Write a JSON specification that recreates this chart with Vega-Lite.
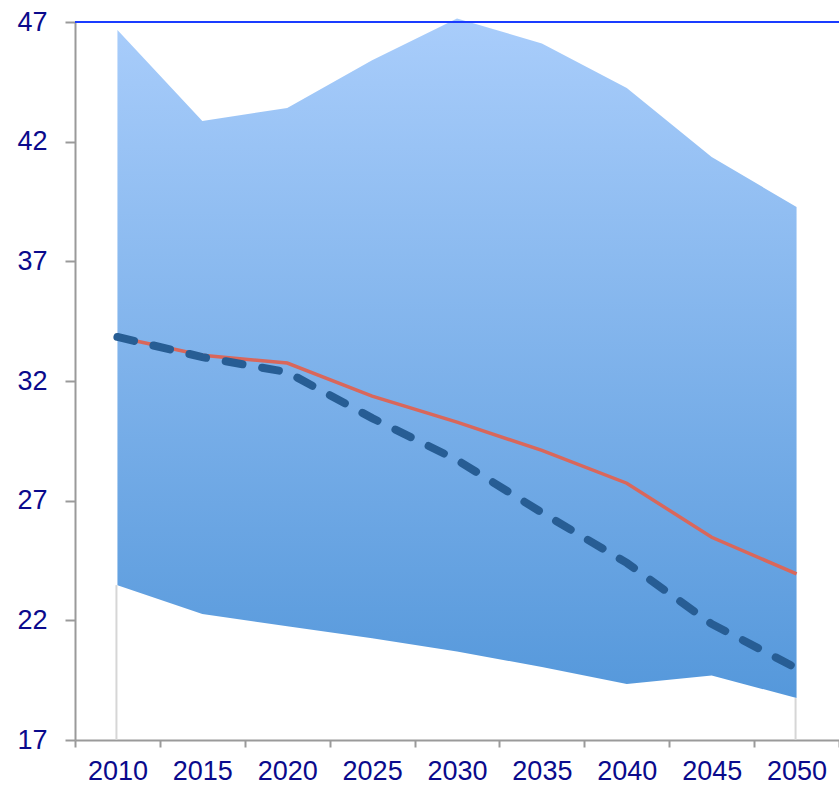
{
  "$schema": "https://vega.github.io/schema/vega-lite/v6.json",
  "width": 764,
  "height": 718,
  "autosize": {"type": "none"},
  "padding": {"left": 75, "top": 22, "right": 0, "bottom": 49},
  "background": "white",
  "config": {
    "view": {"stroke": null},
    "axis": {"labelFont": "Liberation Sans", "labelFontSize": 27, "labelColor": "#0a0a8c", "domainColor": "#9a9a9a", "domainWidth": 2, "tickColor": "#9a9a9a", "tickWidth": 2, "grid": false, "title": null}
  },
  "data": {"values": [
    {"year": "2010", "upper": 46.67, "lower": 23.47, "red": 33.84, "dashed": 33.84},
    {"year": "2015", "upper": 42.86, "lower": 22.26, "red": 33.08, "dashed": 33.0},
    {"year": "2020", "upper": 43.41, "lower": 21.75, "red": 32.75, "dashed": 32.37},
    {"year": "2025", "upper": 45.4, "lower": 21.25, "red": 31.37, "dashed": 30.45},
    {"year": "2030", "upper": 47.15, "lower": 20.7, "red": 30.28, "dashed": 28.7},
    {"year": "2035", "upper": 46.1, "lower": 20.05, "red": 29.1, "dashed": 26.5},
    {"year": "2040", "upper": 44.24, "lower": 19.34, "red": 27.73, "dashed": 24.4},
    {"year": "2045", "upper": 41.36, "lower": 19.7, "red": 25.47, "dashed": 21.85},
    {"year": "2050", "upper": 39.27, "lower": 18.75, "red": 23.94, "dashed": 20.0}
  ]},
  "encoding": {
    "x": {"field": "year", "type": "ordinal", "bandPosition": 0.5,
      "scale": {"type": "band", "paddingInner": 0, "paddingOuter": 0},
      "axis": {"tickBand": "extent", "labelAngle": 0, "tickSize": 7, "labelPadding": 11, "domainWidth": 2}}
  },
  "layer": [
    {
      "mark": {"type": "area", "clip": false,
        "color": {"gradient": "linear", "x1": 0, "y1": 0, "x2": 0, "y2": 1,
          "stops": [{"offset": 0, "color": "#a9cdfb"}, {"offset": 1, "color": "#5598db"}]}},
      "encoding": {
        "y": {"field": "upper", "type": "quantitative",
          "scale": {"domain": [17, 47], "nice": false, "zero": false},
          "axis": {"values": [17, 22, 27, 32, 37, 42, 47], "tickSize": 10, "labelPadding": 18}},
        "y2": {"field": "lower"}
      }
    },
    {
      "transform": [{"filter": "datum.year == '2010' || datum.year == '2050'"}],
      "mark": {"type": "rule", "color": "#d6d6d6", "strokeWidth": 2, "xOffset": -1},
      "encoding": {"y": {"field": "lower", "type": "quantitative"}, "y2": {"datum": 17}}
    },
    {
      "mark": {"type": "line", "color": "#d9675b", "strokeWidth": 3.5},
      "encoding": {"y": {"field": "red", "type": "quantitative"}}
    },
    {
      "mark": {"type": "line", "color": "#275d94", "strokeWidth": 8, "strokeCap": "round", "strokeDash": [17, 20]},
      "encoding": {"y": {"field": "dashed", "type": "quantitative"}}
    },
    {
      "mark": {"type": "rule", "color": "#1a3cff", "strokeWidth": 2},
      "encoding": {"x": null, "y": {"datum": 47}}
    }
  ]
}
